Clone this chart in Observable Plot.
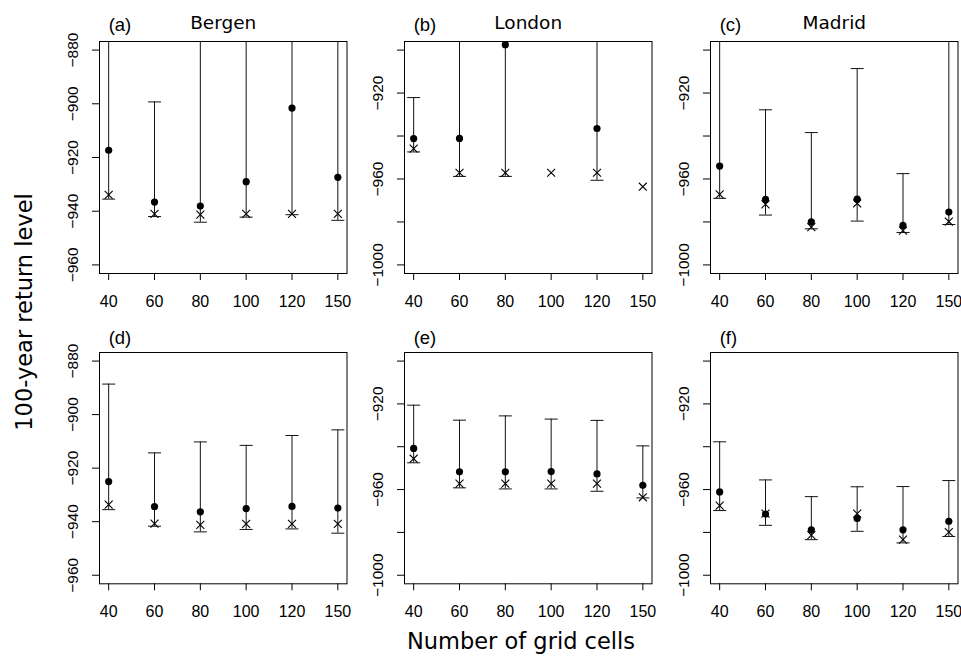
<!DOCTYPE html>
<html><head><meta charset="utf-8">
<script src="https://cdn.jsdelivr.net/npm/d3@7"></script>
<script src="https://cdn.jsdelivr.net/npm/@observablehq/plot@0.6"></script>
<style>
body{margin:0;background:#fff;}
#wrap{position:relative;width:961px;height:656px;overflow:hidden;background:#fff;}
#wrap > svg, #wrap > figure{position:absolute;margin:0;}
</style></head><body><div id="wrap"></div>
<script>
// ---- data ----
const xLabels = ["40", "60", "80", "100", "120", "150"];
const xIndex = [1, 2, 3, 4, 5, 6];
const cities = ["Bergen", "London", "Madrid"];
const panelIds = ["(a)", "(b)", "(c)", "(d)", "(e)", "(f)"];

const bergenLim = [-960, -880];
const otherLim = [-1000, -900];
const bergenTicks = [-960, -940, -920, -900, -880];
const bergenTickLabels = [-960, -940, -920, -900, -880];
const otherTicks = [-1000, -980, -960, -940, -920, -900];
const otherTickLabels = [-1000, -960, -920];

// (a) Bergen, top row
const aDot   = [-917.3, -936.6, -938.1, -929.0, -901.6, -927.4];
const aCross = [-933.9, -941.0, -941.3, -941.0, -941.0, -941.0];
const aLow   = [-935.5, -942.0, -944.1, -942.2, -941.3, -943.4];
const aHigh  = [-860, -899.3, -860, -860, -860, -860];
// (b) London, top row
const bDot   = [-941.2, -941.1, -897.5, null, -936.5, null];
const bCross = [-945.9, -957.1, -957.1, -957.1, -957.1, -963.6];
const bLow   = [-947.4, -958.8, -958.8, null, -960.6, null];
const bHigh  = [-922.1, -880, -880, null, -880, null];
// (c) Madrid, top row
const cDot   = [-954.0, -969.5, -979.9, -969.4, -981.6, -975.4];
const cCross = [-967.2, -971.8, -982.4, -971.4, -984.0, -979.8];
const cLow   = [-969.0, -976.8, -983.2, -979.6, -984.9, -981.2];
const cHigh  = [-880, -927.8, -938.4, -908.6, -957.5, -880];
// (d) Bergen, bottom row
const dDot   = [-925.0, -934.4, -936.3, -935.1, -934.3, -934.9];
const dCross = [-933.6, -940.7, -941.2, -940.8, -940.8, -940.8];
const dLow   = [-935.5, -941.7, -943.8, -942.9, -942.7, -944.3];
const dHigh  = [-888.6, -914.3, -910.2, -911.5, -907.8, -905.7];
// (e) London, bottom row
const eDot   = [-940.8, -951.7, -951.7, -951.6, -952.7, -958.0];
const eCross = [-945.6, -957.2, -957.2, -957.2, -957.2, -963.6];
const eLow   = [-947.5, -959.2, -959.7, -959.7, -960.8, -963.9];
const eHigh  = [-920.6, -927.6, -925.6, -927.1, -927.7, -939.6];
// (f) Madrid, bottom row
const fDot   = [-961.1, -971.4, -978.8, -973.5, -978.8, -974.8];
const fCross = [-967.5, -971.2, -981.3, -971.2, -983.4, -979.9];
const fLow   = [-969.8, -976.7, -983.4, -979.5, -984.9, -981.9];
const fHigh  = [-937.7, -955.5, -963.3, -958.7, -958.6, -955.8];

const series = [
  [aDot, aCross, aLow, aHigh], [bDot, bCross, bLow, bHigh], [cDot, cCross, cLow, cHigh],
  [dDot, dCross, dLow, dHigh], [eDot, eCross, eLow, eHigh], [fDot, fCross, fLow, fHigh]
];

// ---- layout ----
const colLeft = [99, 403.5, 709.5];
const boxW = 247.5;
const rowTop = [40.7, 352];
const boxH = [232, 231.3];
const mL = 45, mR = 4, mT = 40, mB = 38;
const titleDy = [-10.2, -8];

const pad = lim => { const r = lim[1] - lim[0]; return [lim[0] - 0.04 * r, lim[1] + 0.04 * r]; };
const fmt = d => (d < 0 ? "\u2212" : "") + Math.abs(d);
const cap = { draw(ctx, size) { const w = Math.sqrt(size / Math.PI); ctx.moveTo(-w, 0); ctx.lineTo(w, 0); } };

const wrap = document.getElementById("wrap");

series.forEach((s, p) => {
  const row = Math.floor(p / 3), col = p % 3;
  const isBergen = col === 0;
  const rows = xIndex.map((i, k) => ({ i, dot: s[0][k], cross: s[1][k], low: s[2][k], high: s[3][k] }));
  const width = mL + boxW + mR, height = mT + boxH[row] + mB;
  const marks = [
    Plot.frame({ stroke: "black", strokeWidth: 1 }),
    Plot.axisX({ ticks: xIndex, tickFormat: i => xLabels[i - 1], tickSize: 7, tickPadding: 15, fontSize: 16, label: null }),
    Plot.axisY({ ticks: isBergen ? bergenTicks : otherTicks, tickSize: 7, tickFormat: () => "", label: null }),
    Plot.text(isBergen ? bergenTickLabels : otherTickLabels, {
      y: d => d, text: fmt, frameAnchor: "left", textAnchor: "middle", rotate: -90, dx: -22, lineAnchor: "bottom", fontSize: 15.5
    }),
    Plot.ruleX(rows, { x: "i", y1: "low", y2: "high", stroke: "#111", strokeWidth: 1, clip: true }),
    Plot.dot(rows, { x: "i", y: "low", symbol: cap, r: 6.5, stroke: "#111", fill: "none", strokeWidth: 1, clip: true }),
    Plot.dot(rows, { x: "i", y: "high", symbol: cap, r: 6.5, stroke: "#111", fill: "none", strokeWidth: 1, clip: true }),
    Plot.dot(rows, { x: "i", y: "cross", symbol: "times", r: 3.7, stroke: "black", fill: "none", strokeWidth: 1.1, clip: true }),
    Plot.dot(rows, { x: "i", y: "dot", symbol: "circle", r: 3.6, fill: "black", stroke: "none", clip: true }),
    Plot.text([panelIds[p]], { x: () => 1, frameAnchor: "top", textAnchor: "start", lineAnchor: "bottom", dy: titleDy[row], fontSize: 18.5 })
  ];
  if (row === 0) {
    marks.push(Plot.text([cities[col]], { frameAnchor: "top", lineAnchor: "bottom", dy: -12.4, fontSize: 18.5, fontFamily: "DejaVu Sans" }));
  }
  const chart = Plot.plot({
    width, height, marginLeft: mL, marginRight: mR, marginTop: mT, marginBottom: mB,
    style: { fontFamily: "'Liberation Sans', Arial, sans-serif", fontSize: "16px", background: "transparent", color: "black", overflow: "visible" },
    x: { domain: [0.8, 6.2], axis: null },
    y: { domain: pad(isBergen ? bergenLim : otherLim), axis: null },
    marks
  });
  chart.style.left = (colLeft[col] - mL) + "px";
  chart.style.top = (rowTop[row] - mT) + "px";
  wrap.appendChild(chart);
});

// global axis titles
const ns = "http://www.w3.org/2000/svg";
const ov = document.createElementNS(ns, "svg");
ov.setAttribute("width", 961); ov.setAttribute("height", 656);
ov.style.left = "0px"; ov.style.top = "0px"; ov.style.pointerEvents = "none";
const t1 = document.createElementNS(ns, "text");
t1.setAttribute("transform", "translate(32,312) rotate(-90)");
t1.setAttribute("text-anchor", "middle");
t1.setAttribute("font-family", "DejaVu Sans"); t1.setAttribute("font-size", "22.5");
t1.textContent = "100-year return level";
const t2 = document.createElementNS(ns, "text");
t2.setAttribute("x", 521); t2.setAttribute("y", 649);
t2.setAttribute("text-anchor", "middle");
t2.setAttribute("font-family", "DejaVu Sans"); t2.setAttribute("font-size", "22.5");
t2.textContent = "Number of grid cells";
ov.appendChild(t1); ov.appendChild(t2);
wrap.appendChild(ov);
</script></body></html>
